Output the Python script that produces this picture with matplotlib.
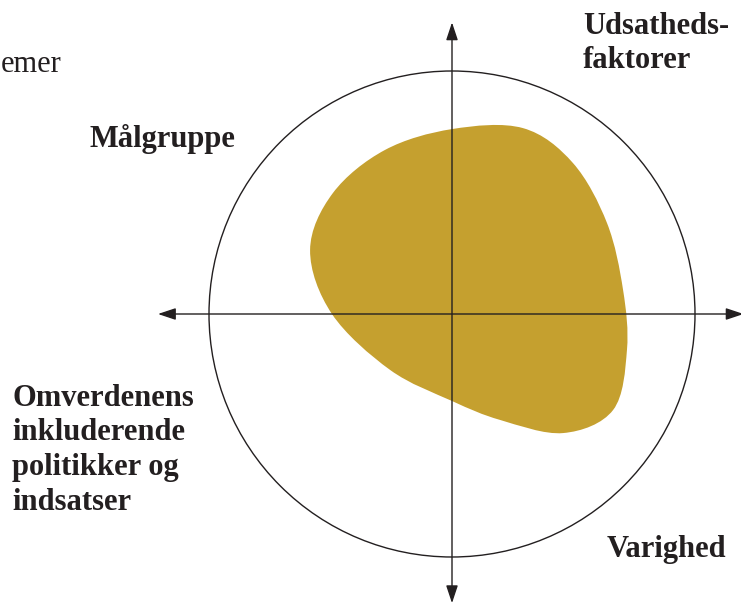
import numpy as np
import matplotlib
matplotlib.use("Agg")
import matplotlib.pyplot as plt
from matplotlib.path import Path
from matplotlib.patches import PathPatch, Circle

# Blob outline (unit circle = reference circle)
blob_x = [0.000, 0.292, 0.498, 0.638, 0.704, 0.720, 0.663, 0.457,
          0.198, 0.000, -0.255, -0.494, -0.584, -0.490, -0.276]
blob_y = [0.761, 0.765, 0.621, 0.374, 0.099, -0.148, -0.395, -0.490,
          -0.436, -0.358, -0.230, 0.000, 0.263, 0.498, 0.675]

labels = ["Udsatheds-\nfaktorer", "Målgruppe",
          "Omverdenens\ninkluderende\npolitikker og\nindsatser", "Varighed"]
fragment = "emer"

W, H = 741, 605
cx, cy, R = 452, 314, 243  # pixel centre and radius

fig = plt.figure(figsize=(W / 100, H / 100), dpi=100)
ax = fig.add_axes([0, 0, 1, 1])
ax.set_xlim(-cx / R, (W - cx) / R)
ax.set_ylim(-(H - cy) / R, cy / R)
ax.axis("off")

ink = "#231f20"
gold = "#c5a02f"

# Closed smooth path through blob points (Catmull-Rom -> cubic Bezier)
P = np.column_stack([blob_x, blob_y])
n = len(P)
verts = [P[0]]
codes = [Path.MOVETO]
for i in range(n):
    p0, p1, p2, p3 = P[i - 1], P[i], P[(i + 1) % n], P[(i + 2) % n]
    c1 = p1 + (p2 - p0) / 6
    c2 = p2 - (p3 - p1) / 6
    verts += [c1, c2, p2]
    codes += [Path.CURVE4] * 3
verts.append(P[0])
codes.append(Path.CLOSEPOLY)
ax.add_patch(PathPatch(Path(verts, codes), facecolor=gold, edgecolor="none", zorder=1))

ax.add_patch(Circle((0, 0), 1.0, fill=False, edgecolor=ink, lw=1.0, zorder=2))

arrow = dict(arrowstyle="<|-|>,head_length=0.6,head_width=0.2", mutation_scale=18,
             lw=1.0, color=ink, shrinkA=0, shrinkB=0)
ax.annotate("", xy=(1.2, 0), xytext=(-1.21, 0), arrowprops=dict(arrow),
            annotation_clip=False, zorder=3)
ax.annotate("", xy=(0, 1.2), xytext=(0, -1.19), arrowprops=dict(arrow),
            annotation_clip=False, zorder=3)

font = ["Liberation Serif", "DejaVu Serif"]

def ftext(x, y, s, **kw):
    fig.text(x / W, 1 - y / H, s, family=font, color=ink, **kw)

ftext(61, 72, fragment, fontsize=22, ha="right", va="baseline")
ftext(583, 12, labels[0], fontsize=22, fontweight="bold", ha="left", va="top", linespacing=1.25)
ftext(89, 124, labels[1], fontsize=22, fontweight="bold", ha="left", va="top")
ftext(12, 384, labels[2], fontsize=22, fontweight="bold", ha="left", va="top", linespacing=1.25)
ftext(607, 535, labels[3], fontsize=22, fontweight="bold", ha="left", va="top")

fig.savefig("out.png", dpi=100)
